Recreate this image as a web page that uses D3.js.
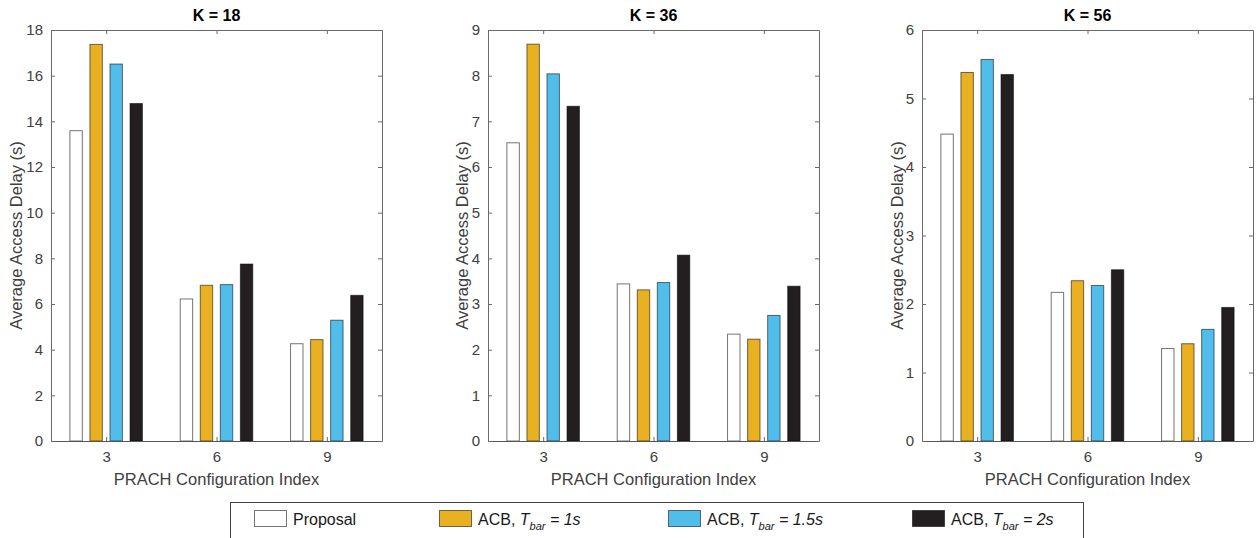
<!DOCTYPE html>
<html>
<head>
<meta charset="utf-8">
<script src="https://cdn.jsdelivr.net/npm/d3@7"></script>
<style>
  body { margin: 0; background: #fff; }
  svg { display: block; font-family: "Liberation Sans", Arial, sans-serif; }
  .tick text { fill: #404040; font-size: 15px; }
</style>
</head>
<body>
<script>
// chart data
const configIndex = [3, 6, 9];
const seriesNames = ["Proposal", "ACB, Tbar = 1s", "ACB, Tbar = 1.5s", "ACB, Tbar = 2s"];
const seriesColors = ["#ffffff", "#E9B022", "#50BDEB", "#231F20"];
const panelTitles = ["K = 18", "K = 36", "K = 56"];
const panelYMax = [18, 9, 6];
const panelYStep = [2, 1, 1];

// values[series][config index]
const delayK18 = [
  [13.59, 6.22, 4.26],
  [17.37, 6.82, 4.44],
  [16.51, 6.85, 5.29],
  [14.78, 7.75, 6.38]
];
const delayK36 = [
  [6.53, 3.44, 2.34],
  [8.69, 3.31, 2.23],
  [8.04, 3.47, 2.75],
  [7.33, 4.07, 3.39]
];
const delayK56 = [
  [4.48, 2.17, 1.35],
  [5.38, 2.34, 1.42],
  [5.57, 2.27, 1.63],
  [5.35, 2.50, 1.95]
];
const panelData = [delayK18, delayK36, delayK56];

const W = 1258, H = 538;
const panelLeft = [51, 488, 922];
const plotW = 331;
const plotTop = 30, plotH = 411;
const tickLen = 4;

const svg = d3.select("body").append("svg")
  .attr("width", W)
  .attr("height", H);

// bar slot within a group, in data units
const slot = d3.scaleBand()
  .domain(d3.range(seriesNames.length))
  .range([-1.09, 1.09])
  .paddingInner(0.38)
  .paddingOuter(0.19);

panelData.forEach((vals, p) => {
  const g = svg.append("g")
    .attr("transform", "translate(" + panelLeft[p] + "," + plotTop + ")");

  const x = d3.scaleLinear().domain([1.5, 10.5]).range([0, plotW]);
  const y = d3.scaleLinear().domain([0, panelYMax[p]]).range([plotH, 0]);
  const yTicks = d3.range(0, panelYMax[p] + 0.001, panelYStep[p]);

  // bars
  const rows = [];
  vals.forEach((row, s) => row.forEach((v, c) => rows.push({ s: s, c: configIndex[c], v: v })));

  g.selectAll(".bar")
    .data(rows)
    .enter()
    .append("rect")
    .attr("class", "bar")
    .attr("x", d => x(d.c + slot(d.s)))
    .attr("width", d => x(d.c + slot(d.s) + slot.bandwidth()) - x(d.c + slot(d.s)))
    .attr("y", d => y(d.v))
    .attr("height", d => y(0) - y(d.v))
    .attr("fill", d => seriesColors[d.s])
    .attr("stroke", "#000")
    .attr("stroke-opacity", 0.55)
    .attr("stroke-width", 1);

  // axes with inward ticks on all four sides
  const axisB = d3.axisBottom(x).tickValues(configIndex).tickSizeInner(-tickLen).tickSizeOuter(0).tickPadding(10);
  const axisT = d3.axisTop(x).tickValues(configIndex).tickSizeInner(-tickLen).tickSizeOuter(0).tickFormat("");
  const axisL = d3.axisLeft(y).tickValues(yTicks).tickSizeInner(-tickLen).tickSizeOuter(0).tickPadding(8).tickFormat(d3.format("d"));
  const axisR = d3.axisRight(y).tickValues(yTicks).tickSizeInner(-tickLen).tickSizeOuter(0).tickFormat("");

  const gb = g.append("g").attr("transform", "translate(0," + plotH + ")").call(axisB);
  const gt = g.append("g").call(axisT);
  const gl = g.append("g").call(axisL);
  const gr = g.append("g").attr("transform", "translate(" + plotW + ",0)").call(axisR);
  [gb, gt, gl, gr].forEach(a => {
    a.select(".domain").attr("stroke", "#6a6a6a").attr("stroke-width", 1);
    a.selectAll(".tick line").attr("stroke", "#6a6a6a");
    a.attr("font-family", null).attr("font-size", null);
  });
  gb.select(".domain").attr("stroke", "#555");

  g.append("text")
    .attr("x", plotW / 2)
    .attr("y", -9)
    .attr("text-anchor", "middle")
    .style("font-size", "16px")
    .style("font-weight", "bold")
    .attr("fill", "#000")
    .text(panelTitles[p]);

  g.append("text")
    .attr("x", plotW / 2)
    .attr("y", plotH + 44)
    .attr("text-anchor", "middle")
    .style("font-size", "16.5px")
    .attr("fill", "#404040")
    .text("PRACH Configuration Index");

  const yLabelX = [-29, -20, -19][p];
  g.append("text")
    .attr("transform", "translate(" + yLabelX + "," + (plotH / 2) + ") rotate(-90)")
    .attr("text-anchor", "middle")
    .style("font-size", "16.5px")
    .attr("fill", "#404040")
    .text("Average Access Delay (s)");
});

// legend
const legendX = [254, 439, 668, 912];
const legend = svg.append("g");
legend.append("rect")
  .attr("x", 230.5).attr("y", 502.5)
  .attr("width", 853).attr("height", 45)
  .attr("fill", "#fff")
  .attr("stroke", "#444");

seriesNames.forEach((name, i) => {
  legend.append("rect")
    .attr("x", legendX[i] + 0.5).attr("y", 510.5)
    .attr("width", 32).attr("height", 16)
    .attr("fill", seriesColors[i])
    .attr("stroke", "#000").attr("stroke-opacity", 0.55);

  const t = legend.append("text")
    .attr("x", legendX[i] + 39)
    .attr("y", 525)
    .style("font-size", "16px")
    .attr("fill", "#1a1a1a");
  if (i === 0) {
    t.text(name);
  } else {
    const m = name.match(/^(ACB, )T(bar)( = .*)$/);
    t.append("tspan").text(m[1]);
    t.append("tspan").style("font-style", "italic").text("T");
    t.append("tspan").style("font-style", "italic").style("font-size", "11px").attr("dy", 5).text(m[2]);
    t.append("tspan").style("font-style", "italic").attr("dy", -5).text(m[3]);
  }
});
</script>
</body>
</html>
